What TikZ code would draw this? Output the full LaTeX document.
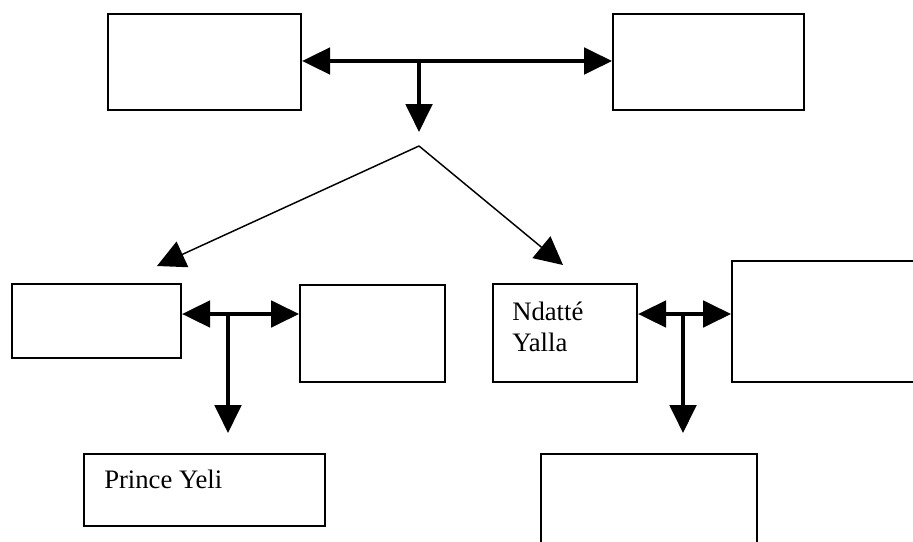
\documentclass[tikz,border=0pt]{standalone}
\usepackage{fontspec}
\setmainfont{Liberation Serif}
\usetikzlibrary{arrows.meta}
\begin{document}
\begin{tikzpicture}[x=0.75pt,y=-0.75pt,
  box/.style={draw,line width=1.6pt,rectangle,inner sep=0pt,anchor=north west},
  fat/.style={line width=2.3pt,-{Triangle[length=21pt,width=20pt]}},
  fatboth/.style={line width=2.3pt,{Triangle[length=21pt,width=20pt]}-{Triangle[length=21pt,width=20pt]}},
  slim/.style={line width=1.1pt,-{Triangle[length=21pt,width=21pt]}},
  txt/.style={inner sep=0pt,font=\fontsize{20}{23.25}\selectfont,align=left}]
\useasboundingbox (0,0) rectangle (913,542);
% boxes
\node[box,minimum width=144.75pt,minimum height=72pt] (tl) at (107,13) {};
\node[box,minimum width=143.25pt,minimum height=72pt] (tr) at (612,13) {};
\node[box,minimum width=126.75pt,minimum height=55.5pt] (ml) at (11,283) {};
\node[box,minimum width=108.75pt,minimum height=72.75pt] (mm) at (299,284) {};
\node[box,minimum width=108pt,minimum height=73.5pt] (nd) at (492,283) {};
\node[box,minimum width=171.75pt,minimum height=90.75pt] (rb) at (731,260) {};
\node[box,minimum width=180.75pt,minimum height=54pt] (py) at (83,453) {};
\node[box,minimum width=162pt,minimum height=110.25pt] (br) at (540,453) {};
% texts
\node[txt,anchor=base west] (ndt) at (512,351) {Ndatté\\Yalla};
\node[txt,anchor=base west] (pyt) at (104,488) {Prince Yeli};
% junctions
\coordinate (j1) at (419,61);
\coordinate (d1) at (419,132);
\coordinate (apex) at (419,146);
\coordinate (lt) at (157,266);
\coordinate (rt) at (563,265);
\coordinate (j2) at (228,314);
\coordinate (d2) at (228,433);
\coordinate (j3) at (683,314);
\coordinate (d3) at (683,433);
% connectors
\draw[fatboth] (tl.east |- j1) -- (tr.west |- j1);
\draw[fat] (j1) -- (d1);
\draw[slim] (apex) -- (lt);
\draw[slim] (apex) -- (rt);
\draw[fatboth] (ml.east |- j2) -- (mm.west |- j2);
\draw[fat] (j2) -- (d2);
\draw[fatboth] (nd.east |- j3) -- (rb.west |- j3);
\draw[fat] (j3) -- (d3);
\end{tikzpicture}
\end{document}
